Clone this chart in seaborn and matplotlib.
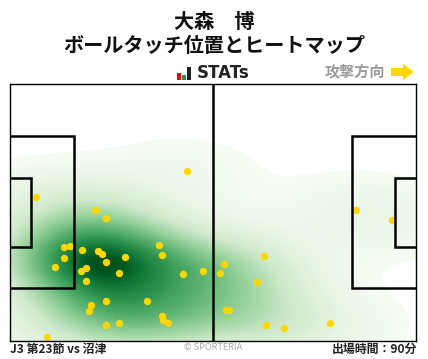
import pandas as pd
import seaborn as sns
from matplotlib import pyplot as plt
from matplotlib.colors import LinearSegmentedColormap
from matplotlib.patches import FancyArrow, Rectangle

touch_x = [45.7, 6.7, 22.0, 22.2, 24.8, 38.5, 15.6, 13.9, 18.6, 22.7, 23.7, 39.3, 29.7, 13.9,
           24.8, 11.6, 19.6, 18.3, 49.9, 28.1, 44.7, 19.6, 24.8, 35.4, 20.9, 20.4, 39.3, 39.5,
           40.8, 28.1, 24.8, 9.5, 89.4, 98.9, 65.6, 55.3, 54.3, 63.8, 55.8, 56.6, 66.1, 70.8, 82.7]
touch_y = [44.9, 38.0, 34.7, 34.7, 32.5, 25.3, 25.0, 24.8, 24.0, 23.7, 22.9, 22.6, 22.1, 21.8,
           20.8, 19.4, 19.2, 18.4, 18.4, 17.8, 17.6, 15.7, 10.4, 10.4, 9.3, 7.8, 6.4, 5.4,
           4.6, 4.6, 4.0, 0.9, 34.6, 31.9, 22.4, 20.2, 17.8, 15.5, 8.0, 8.0, 4.0, 3.2, 4.6]
heat_stops = [0.0, 0.12, 0.3, 0.5, 0.72, 0.9, 1.0]
heat_colors = ['#f6fbf4', '#e8f4e4', '#cfe9cb', '#8fce96', '#46a660', '#107a38', '#004f1d']

title_name = '大森　博'
title_sub = 'ボールタッチ位置とヒートマップ'
match_label = 'J3 第23節 vs 沼津'
minutes_label = '出場時間：90分'

W, H = 428, 359
plt.rcParams['font.family'] = ['Noto Sans CJK JP', 'DejaVu Sans']

df = pd.DataFrame({'x': touch_x, 'y': touch_y})
cmap = LinearSegmentedColormap.from_list('heat', list(zip(heat_stops, heat_colors)))

fig = plt.figure(figsize=(W / 100, H / 100), dpi=100)
ax = fig.add_axes([10 / W, 18.5 / H, 406 / W, 256.5 / H])

sns.kdeplot(data=df, x='x', y='y', fill=True, levels=90, thresh=0.03, cmap=cmap,
            bw_adjust=1.2, gridsize=240, cut=8, antialiased=False, ax=ax, zorder=1)
sns.scatterplot(data=df, x='x', y='y', color='#ffd700', s=28, linewidth=0, ax=ax, zorder=3)

# pitch lines
line = dict(fill=False, ec='black', lw=1.8, zorder=4)
ax.add_patch(Rectangle((-1, 13.84), 17.5, 40.32, **line))
ax.add_patch(Rectangle((-1, 24.84), 6.5, 18.32, **line))
ax.add_patch(Rectangle((88.5, 13.84), 17.5, 40.32, **line))
ax.add_patch(Rectangle((99.5, 24.84), 6.5, 18.32, **line))
ax.axvline(52.4, color='black', lw=1.8, zorder=4)

ax.set_xlim(0, 105)
ax.set_ylim(0, 68)
ax.set_xticks([])
ax.set_yticks([])
ax.set_xlabel('')
ax.set_ylabel('')
for s in ax.spines.values():
    s.set_linewidth(1.0)
    s.set_zorder(5)


def px(x, y):
    return x / W, 1 - y / H


fig.text(*px(214, 21), title_name, ha='center', va='center', fontsize=14.5, fontweight='bold', color='#111111')
fig.text(*px(214, 45.5), title_sub, ha='center', va='center', fontsize=14.5, fontweight='bold', color='#111111')
fig.text(*px(197, 73.5), 'STATs', ha='left', va='center', fontsize=12, fontweight='bold', color='#222222',
         family='DejaVu Sans')
fig.text(*px(385.5, 71.5), '攻撃方向', ha='right', va='center', fontsize=10.9, fontweight='bold', color='#9a9a9a')
fig.text(*px(10.5, 349), match_label, ha='left', va='center', fontsize=8.6, fontweight='bold', color='#222222')
fig.text(*px(213, 348), '© SPORTERIA', ha='center', va='center', fontsize=6.6, color='#aaaaaa')
fig.text(*px(417, 349), minutes_label, ha='right', va='center', fontsize=8.6, fontweight='bold', color='#222222')

# logo bars and arrow
for x0, y0, y1, c in [(177, 73, 79.5, '#e60012'), (181.8, 75, 79.5, '#1a9a3c'), (186.7, 67, 79.5, '#222222')]:
    fig.add_artist(Rectangle(px(x0, y1), 3.8 / W, (y1 - y0) / H, transform=fig.transFigure, fc=c, ec='none'))
x0, y0 = px(391, 72)
fig.add_artist(FancyArrow(x0, y0, 23 / W, 0, width=8 / H, head_width=17 / H, head_length=11 / W,
                          length_includes_head=True, transform=fig.transFigure, fc='#ffd700', ec='none'))

fig.savefig('out.png', dpi=100)
